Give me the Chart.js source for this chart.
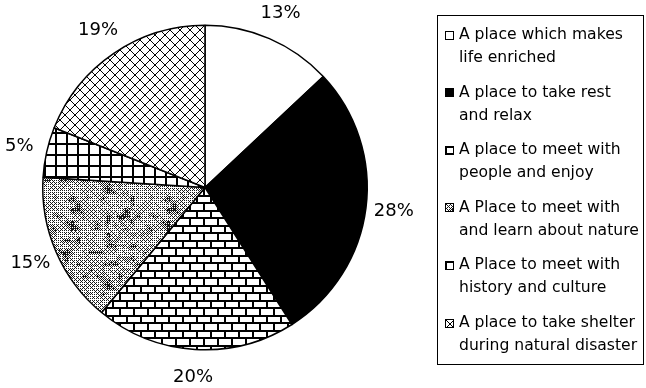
<!DOCTYPE html>
<html>
<head>
<meta charset="utf-8">
<script src="https://cdn.jsdelivr.net/npm/chart.js@4.4.0/dist/chart.umd.min.js"></script>
<style>
  html, body { margin: 0; padding: 0; background: #fff; }
  canvas { display: block; }
</style>
</head>
<body>
<canvas id="c" width="646" height="388"></canvas>
<script>
// Survey answers: what a park should be (share of respondents, %)
const categories = [
  ['A place which makes', 'life enriched'],
  ['A place to take rest', 'and relax'],
  ['A place to meet with', 'people and enjoy'],
  ['A Place to meet with', 'and learn about nature'],
  ['A Place to meet with', 'history and culture'],
  ['A place to take shelter', 'during natural disaster']
];
const shares = [13, 28, 20, 15, 5, 19];
const valueLabels = shares.map(v => v + '%');

// ---- monochrome fill patterns -------------------------------------------
function makeTile(w, h, draw) {
  const c = document.createElement('canvas');
  c.width = w; c.height = h;
  const g = c.getContext('2d');
  g.fillStyle = '#fff';
  g.fillRect(0, 0, w, h);
  g.fillStyle = '#000';
  draw(g, w, h);
  return c;
}

// brick wall
const brickTile = makeTile(14, 15, g => {
  g.fillRect(0, 0, 14, 2);
  g.fillRect(0, 7, 14, 2);
  g.fillRect(0, 0, 2, 7);
  g.fillRect(7, 7, 2, 8);
});

// square grid
const gridTile = makeTile(11, 11, g => {
  g.fillRect(0, 0, 11, 2);
  g.fillRect(0, 0, 2, 11);
});

// diagonal cross-hatch
const hatchTile = makeTile(10, 10, g => {
  for (let i = 0; i < 10; i++) {
    g.fillRect(i, i, 1, 1);
    g.fillRect(i, 9 - i, 1, 1);
  }
});

// speckled stone texture: fine grey dither with darker specks (deterministic)
function hash(x, y) {
  const s = Math.sin(x * 12.9898 + y * 78.233) * 43758.5453;
  return s - Math.floor(s);
}
const stoneTile = makeTile(96, 96, g => {
  const cell = 6, n = 96 / cell;
  const lattice = (i, j) => hash(((i % n) + n) % n + 0.37, ((j % n) + n) % n + 5.1);
  const smooth = t => t * t * (3 - 2 * t);
  const bayer = [[0, 8, 2, 10], [12, 4, 14, 6], [3, 11, 1, 9], [15, 7, 13, 5]];
  const img = g.getImageData(0, 0, 96, 96);
  for (let y = 0; y < 96; y++) {
    for (let x = 0; x < 96; x++) {
      const gx = x / cell, gy = y / cell;
      const i = Math.floor(gx), j = Math.floor(gy);
      const fx = smooth(gx - i), fy = smooth(gy - j);
      const a = lattice(i, j), b = lattice(i + 1, j);
      const c = lattice(i, j + 1), d = lattice(i + 1, j + 1);
      const v = (a * (1 - fx) + b * fx) * (1 - fy) + (c * (1 - fx) + d * fx) * fy;
      const density = 0.32 + 0.6 * Math.pow(Math.max(0, v - 0.5) / 0.5, 1.5)
        + 0.18 * (hash(x + 0.5, y + 0.25) - 0.5);
      const dark = (bayer[y % 4][x % 4] + 0.5) / 16 < density;
      const k = (y * 96 + x) * 4;
      const col = dark ? 25 : 255;
      img.data[k] = img.data[k + 1] = img.data[k + 2] = col;
      img.data[k + 3] = 255;
    }
  }
  g.putImageData(img, 0, 0);
});

const canvas = document.getElementById('c');
const ctx = canvas.getContext('2d');
const fills = [
  '#ffffff',
  '#000000',
  ctx.createPattern(brickTile, 'repeat'),
  ctx.createPattern(stoneTile, 'repeat'),
  ctx.createPattern(gridTile, 'repeat'),
  ctx.createPattern(hatchTile, 'repeat')
];

// percentage labels placed just outside each slice
const sliceLabels = {
  id: 'sliceLabels',
  afterDatasetsDraw(chart) {
    const c = chart.ctx;
    const meta = chart.getDatasetMeta(0);
    c.save();
    c.font = '18px "DejaVu Sans"';
    c.fillStyle = '#000';
    c.textAlign = 'center';
    c.textBaseline = 'middle';
    meta.data.forEach((arc, i) => {
      const p = arc.getProps(['x', 'y', 'startAngle', 'endAngle', 'outerRadius'], true);
      const mid = (p.startAngle + p.endAngle) / 2;
      const r = p.outerRadius + 28;
      c.fillText(valueLabels[i], p.x + Math.cos(mid) * r, p.y + Math.sin(mid) * r);
    });
    c.restore();
  }
};

// boxed legend with two-line entries
const boxLegend = {
  id: 'boxLegend',
  afterDraw(chart) {
    const c = chart.ctx;
    c.save();
    c.strokeStyle = '#000';
    c.lineWidth = 1;
    c.strokeRect(437.5, 15.5, 206, 349);
    c.font = '15.6px "DejaVu Sans"';
    c.fillStyle = '#000';
    c.textAlign = 'left';
    c.textBaseline = 'middle';
    categories.forEach((lines, i) => {
      const y0 = 35 + i * 57.6;
      c.save();
      c.translate(445, Math.round(y0 - 4.5));
      c.fillStyle = fills[i];
      c.fillRect(0, 0, 9, 9);
      c.strokeRect(0.5, 0.5, 8, 8);
      c.restore();
      c.fillStyle = '#000';
      lines.forEach((t, j) => c.fillText(t, 459, y0 + j * 23));
    });
    c.restore();
  }
};

new Chart(ctx, {
  type: 'pie',
  data: {
    labels: categories,
    datasets: [{
      data: shares,
      backgroundColor: fills,
      borderColor: '#000',
      borderWidth: 1.5,
      hoverOffset: 0
    }]
  },
  options: {
    responsive: false,
    animation: false,
    events: [],
    layout: { padding: { left: 42, top: 24, right: 278, bottom: 37 } },
    plugins: {
      legend: { display: false },
      tooltip: { enabled: false }
    }
  },
  plugins: [sliceLabels, boxLegend]
});
</script>
</body>
</html>
